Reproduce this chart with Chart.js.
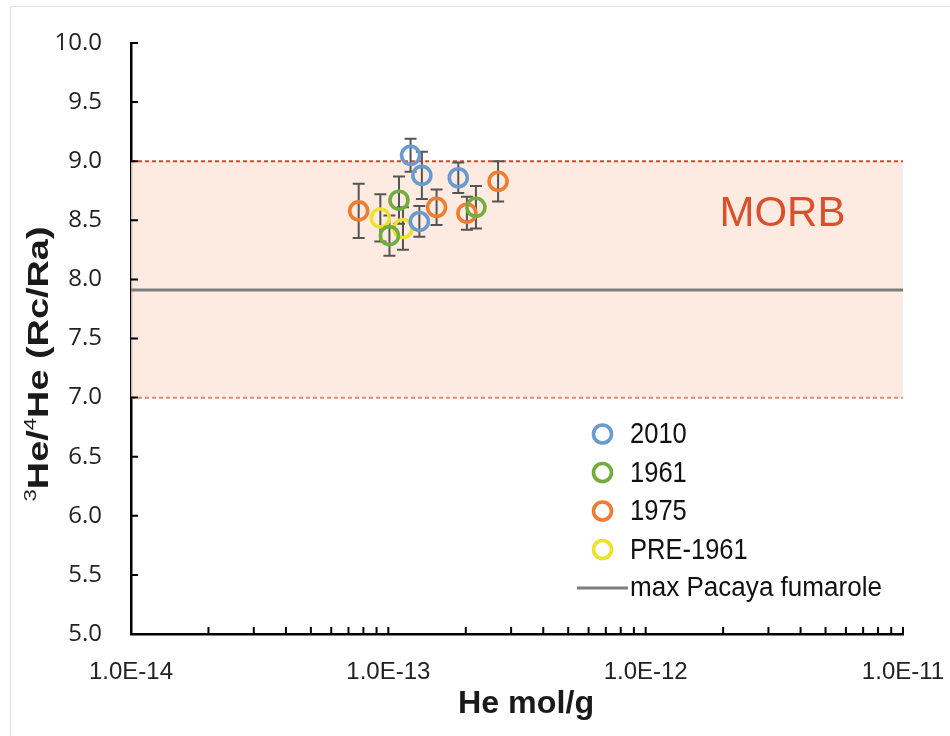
<!DOCTYPE html>
<html>
<head>
<meta charset="utf-8">
<script src="https://cdn.jsdelivr.net/npm/chart.js@4.4.1/dist/chart.umd.min.js"></script>
<style>
  html, body { margin: 0; padding: 0; background: #fff; }
  #wrap { position: relative; width: 950px; height: 736px; overflow: hidden; }
  #frame { position: absolute; left: 10px; top: 6px; right: -5px; bottom: -5px; border-left: 1px solid #e2e2e2; border-top: 1px solid #e2e2e2; }
  canvas { position: absolute; left: 0; top: 0; }
</style>
</head>
<body>
<div id="wrap">
  <div id="frame"></div>
  <canvas id="heChart" width="950" height="736"></canvas>
</div>
<script>
'use strict'

// 試料ごとのデータ（He mol/g, 3He/4He, 誤差）
const s2010_x = [1.22e-13, 1.35e-13, 1.87e-13, 1.32e-13];
const s2010_y = [9.05, 8.88, 8.86, 8.49];
const s2010_err = [0.14, 0.20, 0.13, 0.13];

const s1961_x = [1.10e-13, 1.01e-13, 2.19e-13];
const s1961_y = [8.67, 8.37, 8.61];
const s1961_err = [0.20, 0.17, 0.18];

const s1975_x = [7.67e-14, 1.54e-13, 2.02e-13, 2.67e-13];
const s1975_y = [8.58, 8.61, 8.56, 8.83];
const s1975_err = [0.23, 0.15, 0.14, 0.17];

const pre1961_x = [9.31e-14, 1.14e-13];
const pre1961_y = [8.52, 8.43];
const pre1961_err = [0.20, 0.18];

// MORB の範囲と Pacaya 噴気の最大値
const morbRange = [7.0, 9.0];
const pacayaMax = 7.91;
const xRange = [1e-14, 1e-11];
const xDecades = [1e-14, 1e-13, 1e-12, 1e-11];
const yTicks = [5.0, 5.5, 6.0, 6.5, 7.0, 7.5, 8.0, 8.5, 9.0, 9.5, 10.0];

function toPoints(xs, ys, errs) {
  return xs.map((x, i) => ({ x: x, y: ys[i], err: errs[i] }));
}

function seriesSet(label, xs, ys, errs, color) {
  return {
    label: label,
    data: toPoints(xs, ys, errs),
    showLine: false,
    pointRadius: 9,
    pointHoverRadius: 9,
    pointBorderWidth: 3.6,
    pointBackgroundColor: 'rgba(0,0,0,0)',
    pointBorderColor: color,
    borderColor: color,
    legendKind: 'point',
    order: 1
  };
}

// 横に伸ばした文字（Excel の字形に近づけるため）
function stretchedText(ctx, text, x, y, sx) {
  ctx.save();
  ctx.translate(x, y);
  ctx.scale(sx, 1);
  ctx.fillText(text, 0, 0);
  ctx.restore();
}

// 誤差棒（MORB 帯の上、データ点の下に描く）
const errorBars = {
  id: 'errorBars',
  beforeDraw(chart) { chart.$errDone = false; },
  beforeDatasetDraw(chart, args) {
    const ds = chart.data.datasets[args.index];
    if (ds.legendKind !== 'point' || chart.$errDone) return;
    chart.$errDone = true;
    const ctx = chart.ctx;
    const ys = chart.scales.y, xs = chart.scales.x;
    ctx.save();
    ctx.strokeStyle = '#555';
    ctx.lineWidth = 2;
    chart.data.datasets.forEach(d => {
      if (d.legendKind !== 'point') return;
      d.data.forEach(p => {
        const px = xs.getPixelForValue(p.x);
        const top = ys.getPixelForValue(p.y + p.err);
        const bot = ys.getPixelForValue(p.y - p.err);
        ctx.beginPath();
        ctx.moveTo(px, top); ctx.lineTo(px, bot);
        ctx.moveTo(px - 6, top); ctx.lineTo(px + 6, top);
        ctx.moveTo(px - 6, bot); ctx.lineTo(px + 6, bot);
        ctx.stroke();
      });
    });
    ctx.restore();
  }
};

// 軸の内向き目盛り、軸タイトル、MORB の文字、凡例
const decorations = {
  id: 'decorations',
  afterDraw(chart) {
    const ctx = chart.ctx;
    const xs = chart.scales.x, ys = chart.scales.y;
    const area = chart.chartArea;
    ctx.save();
    ctx.strokeStyle = '#000';
    ctx.lineWidth = 2;
    ctx.beginPath();
    yTicks.forEach(v => {
      const py = ys.getPixelForValue(v);
      ctx.moveTo(area.left, py); ctx.lineTo(area.left + 7, py);
    });
    for (let d = 0; d < xDecades.length - 1; d++) {
      for (let m = 2; m <= 10; m++) {
        const px = xs.getPixelForValue(xDecades[d] * m);
        ctx.moveTo(px, area.bottom); ctx.lineTo(px, area.bottom - 7);
      }
    }
    ctx.stroke();

    // x 軸タイトル
    ctx.fillStyle = '#1a1a1a';
    ctx.font = 'bold 31px "Liberation Sans", Arial, sans-serif';
    ctx.textBaseline = 'alphabetic';
    ctx.textAlign = 'left';
    let w = ctx.measureText('He mol/g').width;
    stretchedText(ctx, 'He mol/g', 526 - w * 1.04 / 2, 713, 1.04);

    // y 軸タイトル（上付き文字あり）
    ctx.save();
    ctx.translate(48, 364);
    ctx.rotate(-Math.PI / 2);
    const parts = [['3', true], ['He/', false], ['4', true], ['He (Rc/Ra)', false]];
    const big = 'bold 29px "Liberation Sans", Arial, sans-serif';
    const small = '17px "Liberation Sans", Arial, sans-serif';
    let total = 0;
    parts.forEach(p => { ctx.font = p[1] ? small : big; total += ctx.measureText(p[0]).width; });
    const sx = 275 / total;
    ctx.scale(sx, 1);
    let cx = -total / 2;
    parts.forEach(p => {
      ctx.font = p[1] ? small : big;
      ctx.fillText(p[0], cx, p[1] ? -12 : 0);
      cx += ctx.measureText(p[0]).width;
    });
    ctx.restore();

    ctx.fillStyle = '#d9502b';
    ctx.font = '42px "Liberation Sans", Arial, sans-serif';
    ctx.textAlign = 'center';
    ctx.textBaseline = 'middle';
    ctx.fillText('MORB', xs.getPixelForValue(3.4e-12), ys.getPixelForValue(8.55));

    // 凡例
    const lx = 602.5, ly0 = 434, step = 38.5;
    ctx.font = '29px "Liberation Sans", Arial, sans-serif';
    ctx.textAlign = 'left';
    ctx.textBaseline = 'middle';
    let i = 0;
    chart.data.datasets.forEach(ds => {
      if (!ds.legendKind) return;
      const y = ly0 + i * step;
      if (ds.legendKind === 'point') {
        ctx.strokeStyle = ds.pointBorderColor;
        ctx.lineWidth = 3.6;
        ctx.beginPath();
        ctx.arc(lx, y, 9, 0, Math.PI * 2);
        ctx.stroke();
        ctx.fillStyle = '#111';
        stretchedText(ctx, ds.label, 630, y + 1, 0.88);
      } else {
        ctx.strokeStyle = ds.borderColor;
        ctx.lineWidth = 3;
        ctx.beginPath();
        ctx.moveTo(577, y); ctx.lineTo(628, y);
        ctx.stroke();
        ctx.fillStyle = '#111';
        ctx.font = '27px "Liberation Sans", Arial, sans-serif';
        w = ctx.measureText(ds.label).width;
        stretchedText(ctx, ds.label, 630, y + 1, 252 / w);
      }
      i++;
    });
    ctx.restore();
  }
};

const ctx = document.getElementById('heChart').getContext('2d');
const heChart = new Chart(ctx, {
  type: 'scatter',
  data: {
    datasets: [
      seriesSet('2010', s2010_x, s2010_y, s2010_err, '#6a9bd0'),
      seriesSet('1961', s1961_x, s1961_y, s1961_err, '#72ad3f'),
      seriesSet('1975', s1975_x, s1975_y, s1975_err, '#ec7d31'),
      seriesSet('PRE-1961', pre1961_x, pre1961_y, pre1961_err, '#ece12f'),
      {
        label: 'max Pacaya fumarole',
        data: xRange.map(x => ({ x: x, y: pacayaMax })),
        showLine: true,
        pointRadius: 0,
        borderColor: '#7f7f7f',
        borderWidth: 3,
        legendKind: 'line',
        order: 2
      },
      {
        label: 'MORB top',
        data: xRange.map(x => ({ x: x, y: morbRange[1] })),
        showLine: true,
        pointRadius: 0,
        borderColor: '#e2432a',
        borderWidth: 2,
        borderDash: [4, 3],
        backgroundColor: 'rgba(252, 230, 218, 0.8)',
        fill: '+1',
        order: 3
      },
      {
        label: 'MORB bottom',
        data: xRange.map(x => ({ x: x, y: morbRange[0] })),
        showLine: true,
        pointRadius: 0,
        borderColor: '#e2432a',
        borderWidth: 2,
        borderDash: [4, 3],
        fill: false,
        order: 3
      }
    ]
  },
  options: {
    responsive: false,
    animation: false,
    layout: { padding: { left: 0, top: 43, right: 47, bottom: 0 } },
    plugins: {
      legend: { display: false },
      tooltip: { enabled: false }
    },
    scales: {
      x: {
        type: 'logarithmic',
        min: xRange[0],
        max: xRange[1],
        afterBuildTicks(scale) {
          scale.ticks = xDecades.map(v => ({ value: v }));
        },
        afterFit(scale) {
          scale.height = 102;
          scale.paddingLeft = 0;
          scale.paddingRight = 0;
        },
        grid: { display: false, drawTicks: false },
        border: { display: true, color: '#000', width: 2.5 },
        ticks: {
          padding: 24,
          color: '#222',
          font: { family: '"Liberation Sans", Arial, sans-serif', size: 24 },
          maxRotation: 0,
          autoSkip: false,
          callback: v => Number(v).toExponential(1).toUpperCase()
        }
      },
      y: {
        min: 5,
        max: 10,
        afterBuildTicks(scale) {
          scale.ticks = yTicks.map(v => ({ value: v }));
        },
        afterFit(scale) {
          scale.width = 131;
          scale.paddingTop = 0;
          scale.paddingBottom = 0;
        },
        grid: { display: false, drawTicks: false },
        border: { display: true, color: '#000', width: 2.5 },
        ticks: {
          padding: 29,
          color: '#222',
          font: { family: '"Open Sans", sans-serif', size: 24 },
          callback: v => Number(v).toFixed(1)
        }
      }
    }
  },
  plugins: [errorBars, decorations]
});
</script>
</body>
</html>
